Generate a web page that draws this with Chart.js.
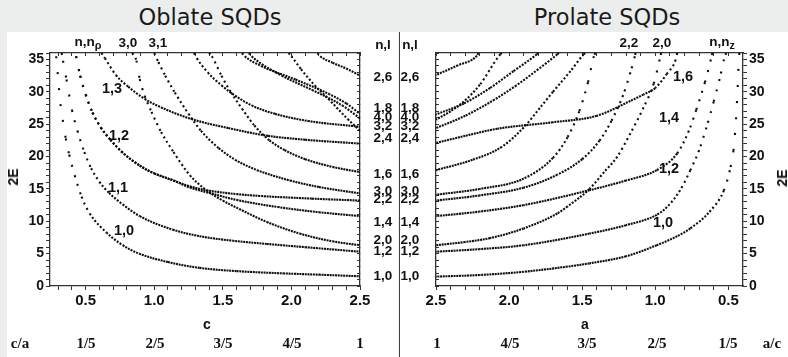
<!DOCTYPE html>
<html><head><meta charset="utf-8">
<script src="https://cdn.jsdelivr.net/npm/chart.js@4.4.1/dist/chart.umd.min.js"></script>
<style>
html,body{margin:0;padding:0;}
body{width:788px;height:357px;background:#eceeed;position:relative;overflow:hidden;}
.panel{position:absolute;background:#fff;}
.t{position:absolute;transform:translate(-50%,-50%);white-space:nowrap;line-height:1;}
.title{font-family:"DejaVu Sans",sans-serif;font-size:22.5px;color:#1a1a1a;}
.lab{font-family:"Liberation Sans",Arial,sans-serif;font-weight:bold;font-size:13.5px;color:#111;}
.inl{font-family:"Liberation Sans",Arial,sans-serif;font-weight:bold;font-size:14.5px;color:#111;}
.ser{font-family:"Liberation Serif",serif;font-weight:bold;font-size:15px;color:#111;}
.ax{font-family:"Liberation Sans",Arial,sans-serif;font-weight:bold;font-size:14px;color:#111;}
sub{font-size:0.8em;vertical-align:-0.3em;}
.wrap{position:absolute;top:32px;height:325px;}
</style></head><body>
<div class="panel" style="left:7px;top:32px;width:391px;height:325px"></div>
<div class="panel" style="left:400px;top:32px;width:388px;height:325px"></div>
<div style="position:absolute;left:398.6px;top:32px;width:1.2px;height:325px;background:#444"></div>
<div class="wrap" style="left:0;width:398px"><canvas id="c1"></canvas></div>
<div class="wrap" style="left:400px;width:388px"><canvas id="c2"></canvas></div>
<div id="labels"></div>
<script>
// ---------------- DATA ----------------
// Oblate SQDs: [c, 2E]
const ob_10 = [[0.285,35.5],[0.30,31.9],[0.315,28.3],[0.335,25.4],[0.355,22.8],[0.38,20.3],[0.42,17.1],[0.47,13.8],[0.53,11.2],[0.65,8.3],[0.77,6.3],[0.89,5.0],[1.1,3.7],[1.33,2.8],[1.6,2.3],[1.94,1.95],[2.2,1.75],[2.5,1.5]];
const ob_11 = [[0.325,36],[0.335,34.8],[0.36,31.9],[0.40,27.2],[0.44,24.0],[0.49,20.7],[0.54,18.2],[0.60,16.1],[0.67,14.4],[0.77,12.6],[0.894,10.8],[1.135,8.7],[1.33,7.7],[1.57,7.0],[1.82,6.5],[2.1,6.0],[2.5,5.3]];
const ob_12a = [[0.43,35.5],[0.46,32.5],[0.50,29.6],[0.55,26.8],[0.61,24.5],[0.68,22.6],[0.76,20.8],[0.894,18.6],[1.0,17.4],[1.14,16.3],[1.26,15.4],[1.38,14.8],[1.6,14.2],[1.78,13.9],[2.15,13.5],[2.5,13.2]];
const ob_12b = [[0.43,35.5],[0.46,32.5],[0.50,29.6],[0.55,26.8],[0.61,24.5],[0.68,22.6],[0.76,20.8],[0.894,18.6],[1.0,17.4],[1.14,16.3],[1.26,15.2],[1.38,14.5],[1.6,13.3],[1.9,12.2],[2.2,11.4],[2.5,10.8]];
const ob_13 = [[0.615,36],[0.64,35.2],[0.72,32.6],[0.81,30.8],[0.93,28.9],[1.05,27.6],[1.27,25.8],[1.54,24.4],[1.83,23.2],[2.1,22.6],[2.5,22.0]];
const ob_30 = [[0.84,36],[0.87,34.8],[0.894,32],[0.93,29.4],[0.98,26.9],[1.05,23.8],[1.14,20.7],[1.2,18.8],[1.26,17.1],[1.38,14.8],[1.5,13.2],[1.62,11.9],[1.82,9.9],[2.06,8.1],[2.3,6.9],[2.5,6.3]];
const ob_31 = [[1.0,36],[1.03,34.6],[1.08,32.5],[1.15,29.9],[1.25,26.6],[1.34,24.0],[1.47,21.3],[1.59,19.5],[1.75,17.9],[1.99,16.3],[2.2,15.3],[2.5,14.3]];
const ob_a = [[1.40,36],[1.42,35.5],[1.49,32.5],[1.56,29.9],[1.64,27.4],[1.73,24.8],[1.84,22.5],[1.95,21.0],[2.1,19.6],[2.3,18.4],[2.5,17.6]];
const ob_b = [[1.29,36],[1.31,35.2],[1.39,33.0],[1.49,31.0],[1.59,29.4],[1.71,27.9],[1.88,26.6],[2.12,25.5],[2.5,24.6]];
const ob_c = [[1.64,36],[1.66,35.5],[1.78,34.0],[2.03,31.9],[2.27,29.7],[2.4,28.2],[2.5,26.6]];
const ob_d = [[1.69,36],[1.71,35.5],[1.93,32.5],[2.15,30.3],[2.37,27.9],[2.5,25.9]];
const ob_e = [[1.98,36],[2.0,35.5],[2.07,33.5],[2.17,31.0],[2.27,28.9],[2.41,25.8],[2.5,24.0]];
const ob_f = [[2.19,36],[2.21,35.5],[2.3,34.5],[2.4,33.6],[2.5,32.5]];
const oblateCurves = [ob_10, ob_11, ob_12a, ob_12b, ob_13, ob_30, ob_31, ob_a, ob_b, ob_c, ob_d, ob_e, ob_f];

// Prolate SQDs: [a, 2E]
const pr_10 = [[0.425,36],[0.43,34],[0.44,29],[0.45,25],[0.465,21],[0.49,17.9],[0.53,14.8],[0.62,11.7],[0.76,8.9],[0.85,7.7],[0.99,6.3],[1.2,4.6],[1.45,3.5],[1.6,3.0],[1.9,2.2],[2.2,1.7],[2.5,1.45]];
const pr_12 = [[0.515,36],[0.53,35],[0.56,32],[0.6,28.5],[0.65,24.5],[0.7,21],[0.76,17.9],[0.83,14.8],[0.92,12.2],[0.99,11.0],[1.2,9.4],[1.45,8.1],[1.9,6.3],[2.2,5.7],[2.5,5.3]];
const pr_14 = [[0.61,36],[0.62,35],[0.66,31.5],[0.72,27.2],[0.77,24],[0.85,20.5],[0.99,17.9],[1.2,16.3],[1.45,14.8],[1.9,12.5],[2.2,11.5],[2.5,10.8]];
const pr_16 = [[0.85,36],[0.86,35],[0.92,32.8],[1.0,30.6],[1.08,29.6],[1.17,28.6],[1.4,26.3],[1.7,25.3],[2.08,24.3],[2.3,23.2],[2.5,22.1]];
const pr_20 = [[0.96,36],[0.97,35],[1.01,31.3],[1.08,27.6],[1.17,23.6],[1.26,20],[1.35,17.6],[1.45,15.0],[1.6,12.3],[1.67,11.2],[1.9,8.9],[2.13,7.4],[2.3,6.8],[2.5,6.3]];
const pr_22 = [[1.135,36],[1.14,35.5],[1.17,33],[1.22,29.5],[1.3,25.5],[1.38,22.5],[1.5,19.6],[1.67,17.2],[1.9,15.2],[2.2,14.0],[2.5,13.2]];
const pr_f = [[1.41,36],[1.42,35.5],[1.46,31.5],[1.52,27],[1.6,23],[1.7,19.8],[1.9,16.6],[2.2,15.0],[2.5,14.1]];
const pr_g = [[1.48,36],[1.49,35.8],[1.58,33.2],[1.7,30],[1.79,27.5],[1.9,24.5],[2.05,21.5],[2.25,19.5],[2.5,17.9]];
const pr_i = [[1.66,36],[1.67,35.8],[1.8,33.5],[1.95,31],[2.1,28.8],[2.3,26.3],[2.5,24.4]];
const pr_j = [[1.8,36],[1.81,35.8],[1.97,33.2],[2.13,30.6],[2.31,28.2],[2.5,26.5]];
const pr_k = [[2.05,36],[2.06,35.8],[2.2,31.1],[2.31,28.5],[2.4,27.0],[2.5,25.7]];
const pr_l = [[2.21,36],[2.22,35.6],[2.35,34.1],[2.5,32.6]];
const prolateCurves = [pr_10, pr_12, pr_14, pr_16, pr_20, pr_22, pr_f, pr_g, pr_i, pr_j, pr_k, pr_l];

// Tick labels
const xMajorTicks = [0.5, 1.0, 1.5, 2.0, 2.5];
const yMajorTicks = [0, 5, 10, 15, 20, 25, 30, 35];

// Text labels
const titles = ['Oblate SQDs', 'Prolate SQDs'];
const nlLabels = ['n,l','2,6','1,8','4,0','3,2','2,4','1,6','3,0','2,2','1,4','2,0','1,2','1,0'];
const oblateTop = ['n,n<sub>ρ</sub>','3,0','3,1'];
const oblateInner = ['1,3','1,2','1,1','1,0'];
const prolateTop = ['2,2','2,0','n,n<sub>z</sub>'];
const prolateInner = ['1,6','1,4','1,2','1,0'];
const caRow = ['c/a','1/5','2/5','3/5','4/5','1'];
const acRow = ['1','4/5','3/5','2/5','1/5','a/c'];
const axisNames = ['c','a','2E'];

// ---------------- LAYOUT / DRAW ----------------
const fontTickX = {family:'Liberation Sans', weight:'bold', size:15};
const fontTickY = {family:'Liberation Sans', weight:'bold', size:14};
function range(a,b,s){const r=[];for(let v=a;v<=b+1e-9;v+=s)r.push(Math.round(v*100)/100);return r;}

// dotted look: dots sampled at a constant horizontal pitch, as in the original plot
const DOT = 2, PITCH = 2.7;
function dotDash(ctx){
  const dx = Math.abs(ctx.p1.x - ctx.p0.x), dy = Math.abs(ctx.p1.y - ctx.p0.y);
  const len = Math.hypot(dx, dy) || 1;
  let period = PITCH * len / Math.max(dx, 0.05);
  period = Math.min(Math.max(period, PITCH), 16);
  return [DOT, period - DOT];
}

function makeChart(id, curves, xmin, xmax, reverse, leftW, rightW, labelsRight, xTickVals){
  const yTickVals = range(0,36,1);
  const setX = s => { s.ticks = xTickVals.map(v=>({value:v})); };
  const setY = s => { s.ticks = yTickVals.map(v=>({value:v})); };
  const border = {color:'#333', width:1.3};
  const xLab = v => xMajorTicks.some(m=>Math.abs(m-v)<1e-6) ? Number(v).toFixed(1) : '';
  const yLab = v => yMajorTicks.includes(Math.round(v)) && Math.abs(v-Math.round(v))<1e-6 ? String(Math.round(v)) : '';
  return new Chart(document.getElementById(id), {
    type:'scatter',
    data:{datasets: curves.map(c=>({
      data:c.map(p=>({x:p[0],y:p[1]})),
      showLine:true, pointRadius:0, borderColor:'#0d0d0d', borderWidth:2.1,
      borderDash:[DOT, PITCH-DOT], cubicInterpolationMode:'monotone', fill:false,
      segment:{borderDash: dotDash}
    }))},
    options:{
      responsive:true, maintainAspectRatio:false, animation:false, events:[],
      layout:{padding:0},
      plugins:{legend:{display:false}, tooltip:{enabled:false}},
      scales:{
        x:{type:'linear', position:'bottom', min:xmin, max:xmax, reverse:reverse,
           afterFit:s=>{s.height=71;}, afterBuildTicks:setX,
           ticks:{autoSkip:false, maxRotation:0, padding:2, color:'#111', font:fontTickX, callback:xLab},
           grid:{drawOnChartArea:false, tickLength:4, tickColor:'#333', tickWidth:1}, border:border},
        xt:{type:'linear', position:'top', min:xmin, max:xmax, reverse:reverse,
           afterFit:s=>{s.height=21;}, afterBuildTicks:setX,
           ticks:{display:false},
           grid:{drawOnChartArea:false, tickLength:-3, tickColor:'#333', tickWidth:1}, border:border},
        y:{type:'linear', position:'left', min:0, max:36,
           afterFit:s=>{s.width=leftW;}, afterBuildTicks:setY,
           ticks:{display:!labelsRight, autoSkip:false, padding:2, color:'#111', font:fontTickY, callback:yLab},
           grid:{drawOnChartArea:false, tickLength:labelsRight?-3:4, tickColor:'#333', tickWidth:1}, border:border},
        yr:{type:'linear', position:'right', min:0, max:36,
           afterFit:s=>{s.width=rightW;}, afterBuildTicks:setY,
           ticks:{display:labelsRight, autoSkip:false, padding:2, color:'#111', font:fontTickY, callback:yLab},
           grid:{drawOnChartArea:false, tickLength:labelsRight?4:-3, tickColor:'#333', tickWidth:1}, border:border}
      }
    }
  });
}

makeChart('c1', oblateCurves, 0.24, 2.5, false, 50, 38, false, range(0.3,2.5,0.1));
makeChart('c2', prolateCurves, 0.4, 2.5, true, 36, 45, true, range(0.5,2.5,0.1));

// HTML text labels
const L = document.getElementById('labels');
function put(txt, x, y, cls, extra){
  const d = document.createElement('div');
  d.className = 't ' + cls;
  d.innerHTML = txt;
  d.style.left = x + 'px'; d.style.top = y + 'px';
  if (extra) d.style.transform = 'translate(-50%,-50%) ' + extra;
  L.appendChild(d);
}
put(titles[0], 210, 17, 'title');
put(titles[1], 607, 17, 'title');
const nlY = [45,77,108,117,126,138,174,191,199,222,240,251,276];
nlLabels.forEach((t,i)=>{ put(t, 383, nlY[i], 'lab'); put(t, 410, nlY[i], 'lab'); });
[[88,43],[128,43],[158,43]].forEach((p,i)=>put(oblateTop[i], p[0], p[1], 'lab'));
[[629,43],[662,43],[722,43]].forEach((p,i)=>put(prolateTop[i], p[0], p[1], 'lab'));
[[112,88],[119,135],[118,187],[124,230]].forEach((p,i)=>put(oblateInner[i], p[0], p[1], 'inl'));
[[683,76],[669,117],[669,168],[663,222]].forEach((p,i)=>put(prolateInner[i], p[0], p[1], 'inl'));
[20,86,155,223,292,360].forEach((x,i)=>put(caRow[i], x, 343, 'ser'));
[437,510,587,657,728,772].forEach((x,i)=>put(acRow[i], x, 343, 'ser'));
put(axisNames[0], 207, 324, 'ax');
put(axisNames[1], 585, 324, 'ax');
put(axisNames[2], 13, 177, 'ax', 'rotate(-90deg)');
put(axisNames[2], 782, 178, 'ax', 'rotate(-90deg)');
</script>
</body></html>
